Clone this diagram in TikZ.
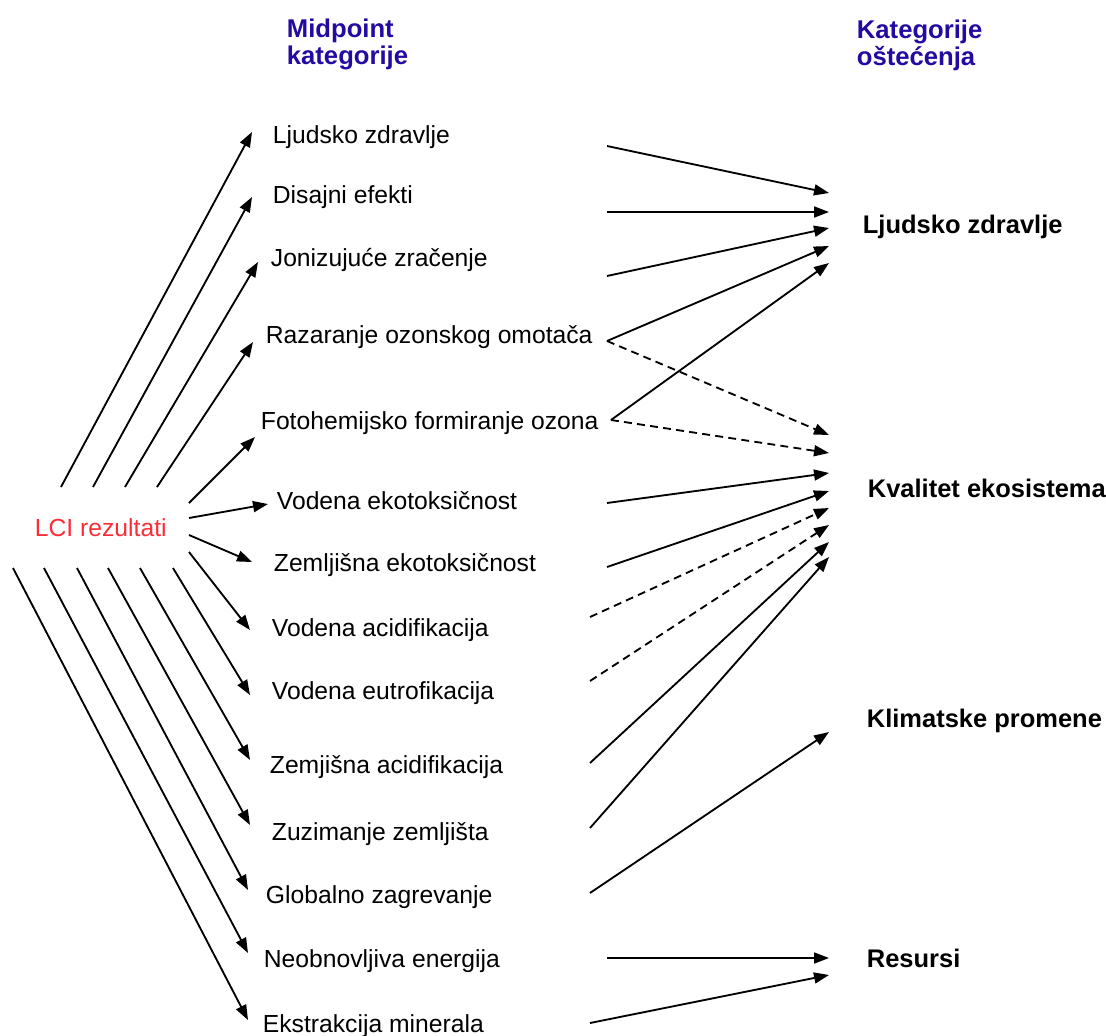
\documentclass[tikz,border=0pt]{standalone}
\usepackage{fontspec}
\setmainfont{Liberation Sans}
\usepackage{tikz}
\usetikzlibrary{arrows.meta,calc}

\definecolor{hdrblue}{RGB}{35,10,160}
\definecolor{lcired}{RGB}{250,45,55}

\begin{document}
\begin{tikzpicture}[x=0.02cm,y=-0.02cm,>={Triangle[length=3mm,width=2.2mm]},line width=1.05pt]
	\tikzset{mid/.style={anchor=base west,inner sep=0pt,font=\fontsize{14.05}{16}\selectfont}}
	\tikzset{dmg/.style={anchor=base west,inner sep=0pt,font=\fontsize{14.5}{16}\selectfont\bfseries}}
	\tikzset{hdr/.style={anchor=north west,inner sep=0pt,align=left,text=hdrblue,font=\fontsize{14.6}{15.4}\selectfont\bfseries}}
	\tikzset{arr/.style={->}}
	\tikzset{dashline/.style={dash pattern=on 4.5pt off 3pt}}
	\useasboundingbox (0,0) rectangle (1106,1035);

	\node[hdr] (h1) at (286,18.4) {Midpoint\\kategorije};
	\node[hdr] (h2) at (856,19.4) {Kategorije\\oštećenja};

	\node[mid,text=lcired] (lci) at (34,536) {LCI rezultati};

	\foreach \n/\x/\y/\t in {1/272/143/Ljudsko zdravlje, 2/272/203/Disajni efekti,
		3/270/266/Jonizujuće zračenje, 4/265/343/Razaranje ozonskog omotača,
		5/260/429/Fotohemijsko formiranje ozona, 6/276/509/Vodena ekotoksičnost,
		7/273/571/Zemljišna ekotoksičnost, 8/271/636/Vodena acidifikacija,
		9/271/699/Vodena eutrofikacija, 10/269/773/Zemjišna acidifikacija,
		11/271/840/Zuzimanje zemljišta, 12/265/903/Globalno zagrevanje,
		13/263/967/Neobnovljiva energija, 14/262/1032/Ekstrakcija minerala}
		\node[mid] (m\n) at (\x,\y) {\t};

	\node[dmg] (d1) at (862,233) {Ljudsko zdravlje};
	\node[dmg] (d2) at (867,497) {Kvalitet ekosistema};
	\node[dmg] (d3) at (866,727) {Klimatske promene};
	\node[dmg] (d4) at (866,967) {Resursi};

	% LCI -> midpoint
	\foreach \n/\x/\y in {1/61/487, 2/93/487, 3/125/487, 4/157/487, 5/189/503, 6/189/518, 7/189/535,
		8/189/552, 9/173/568, 10/140/568, 11/108/568, 12/77/568, 13/44/568, 14/13/568}
		\coordinate (l\n) at (\x,\y);
	\foreach \n/\dx/\dy in {1/-20/-11, 2/-20/-6, 3/-12/-4, 4/-12/-1, 5/-5/8, 6/-8/-5, 7/-21/-9,
		8/-21/-6, 9/-21/-4, 10/-19/-13, 11/-21/-15, 12/-17/-13, 13/-15/-14, 14/-14/-12}
		\draw[arr] (l\n) -- ($(m\n.base west)+(\dx,\dy)$);

	% midpoint -> damage
	\foreach \n/\x/\y in {1/607/146, 2/607/212, 3/607/276, 4/607/341, 5/611/420, 6/607/503, 7/607/567,
		8/590/617, 9/590/681, 10/590/763, 11/590/828, 12/590/893, 13/607/958, 14/590/1023}
		\coordinate (r\n) at (\x,\y);
	\foreach \s/\t/\dx/\dy/\st in {1/d1/-33/-40/solid, 2/d1/-33/-21/solid, 3/d1/-33/-5/solid,
		4/d1/-33/13/solid, 5/d1/-33/30/solid, 4/d2/-38/-62/dashline, 5/d2/-38/-44/dashline,
		6/d2/-38/-24/solid, 7/d2/-38/-6/solid, 8/d2/-38/11/dashline, 9/d2/-38/28/dashline,
		10/d2/-38/45/solid, 11/d2/-38/60/solid, 12/d3/-37/5/solid, 13/d4/-37/-9/solid,
		14/d4/-37/8/solid}
		\draw[arr,\st] (r\s) -- ($(\t.base west)+(\dx,\dy)$);
\end{tikzpicture}
\end{document}
